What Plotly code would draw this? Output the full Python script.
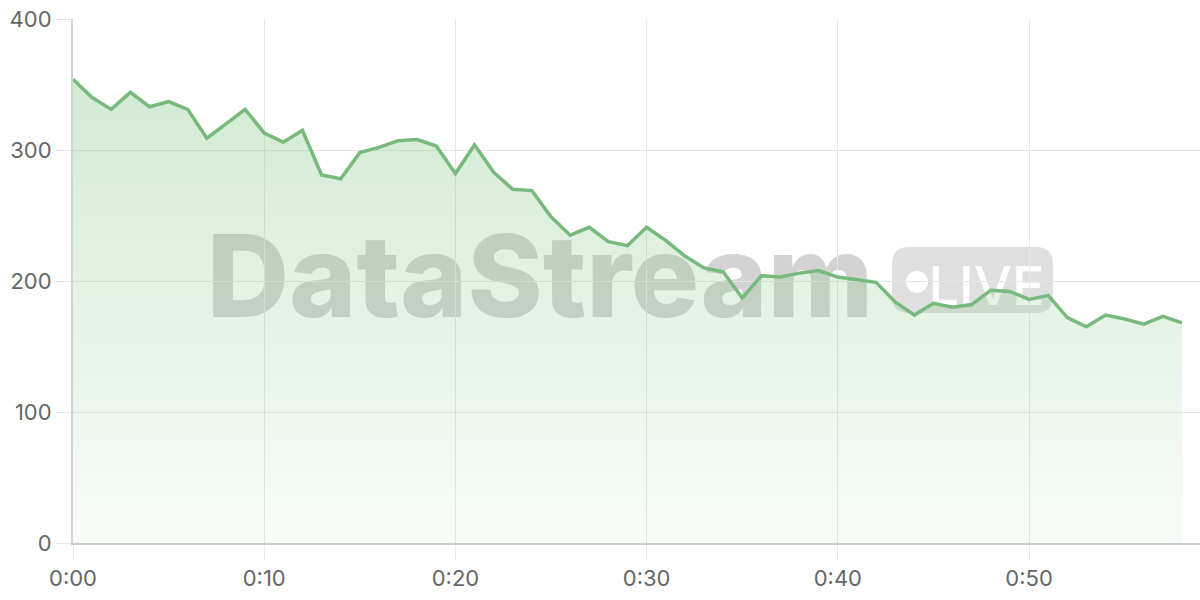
import plotly.graph_objects as go

# minutes since start and the measured value at each minute
minutes = list(range(59))
values = [354, 340, 331, 344, 333, 337, 331, 309, 320, 331,
          313, 306, 315, 281, 278, 298, 302, 307, 308, 303,
          282, 304, 283, 270, 269, 249, 235, 241, 230, 227,
          241, 231, 219, 210, 207, 187, 204, 203, 206, 208,
          203, 201, 199, 184, 174, 183, 180, 182, 193, 192,
          186, 189, 172, 165, 174, 171, 167, 173, 168]

x_ticks = [0, 10, 20, 30, 40, 50]
x_labels = ["0:00", "0:10", "0:20", "0:30", "0:40", "0:50"]
y_ticks = [0, 100, 200, 300, 400]

W, H = 1200, 600
L, R, T, B = 73, 0, 19, 57


def px(x):
    # pixel -> paper x
    return (x - L) / (W - L - R)


def py(y):
    return (H - B - y) / (H - T - B)


def rounded_path(x0, y0, x1, y1, r):
    # rounded rectangle in pixel space, converted to paper coords
    pts = [
        ("M", [(x0 + r, y0)]), ("L", [(x1 - r, y0)]), ("Q", [(x1, y0), (x1, y0 + r)]),
        ("L", [(x1, y1 - r)]), ("Q", [(x1, y1), (x1 - r, y1)]),
        ("L", [(x0 + r, y1)]), ("Q", [(x0, y1), (x0, y1 - r)]),
        ("L", [(x0, y0 + r)]), ("Q", [(x0, y0), (x0 + r, y0)]),
    ]
    s = ""
    for cmd, ps in pts:
        s += cmd + " ".join(f"{px(a):.5f},{py(b):.5f}" for a, b in ps) + " "
    return s + "Z"


fig = go.Figure()
fig.add_trace(go.Scatter(
    x=minutes, y=values, mode="lines",
    line=dict(color="#78ba7c", width=3.5),
    fill="tozeroy",
    fillgradient=dict(type="vertical",
                      colorscale=[[0, "rgba(129,199,132,0.06)"], [1, "rgba(129,199,132,0.36)"]]),
    hoverinfo="skip",
))

wm = "rgba(110,110,110,0.3)"
shapes = [
    # big watermark word
    dict(type="rect", xref="paper", yref="paper", layer="between",
         x0=px(190), x1=px(890), y0=py(320), y1=py(222),
         line=dict(width=0), fillcolor="rgba(0,0,0,0)",
         label=dict(text="DataStream", textposition="middle center",
                    font=dict(family="Inter", size=114, color=wm, weight=800))),
    # LIVE badge
    dict(type="path", xref="paper", yref="paper", layer="between",
         path=rounded_path(892, 247, 1053, 313, 17),
         line=dict(width=0), fillcolor="rgba(120,120,120,0.24)"),
    dict(type="circle", xref="paper", yref="paper", layer="between",
         x0=px(906), x1=px(928), y0=py(293), y1=py(271),
         line=dict(width=0), fillcolor="white"),
    dict(type="rect", xref="paper", yref="paper", layer="between",
         x0=px(934), x1=px(1039), y0=py(311), y1=py(255),
         line=dict(width=0), fillcolor="rgba(0,0,0,0)",
         label=dict(text="LIVE", textposition="middle center",
                    font=dict(family="Inter", size=54, color="white", weight=500))),
]

fig.update_layout(
    width=W, height=H,
    margin=dict(l=L, r=R, t=T, b=B),
    paper_bgcolor="white", plot_bgcolor="rgba(0,0,0,0)",
    showlegend=False,
    font=dict(family="Inter", size=22, color="#666666"),
    shapes=shapes,
)
fig.update_xaxes(
    range=[0, 58.94], tickvals=x_ticks, ticktext=x_labels, automargin=False,
    ticklabeloverflow="allow",
    showgrid=True, gridcolor="#e6e6e6", gridwidth=1,
    ticks="outside", ticklen=15, tickcolor="#e6e6e6", tickwidth=1,
    showline=True, linecolor="#cfcfcf", linewidth=2, zeroline=False,
)
fig.update_yaxes(
    range=[0, 400], tickvals=y_ticks, automargin=False,
    ticklabeloverflow="allow",
    showgrid=True, gridcolor="#e6e6e6", gridwidth=1,
    ticks="outside", ticklen=15, tickcolor="#e6e6e6", tickwidth=1,
    showline=True, linecolor="#d4d4d4", linewidth=2, zeroline=False,
)

# drop the default page margin so the figure fills the window
fig.write_html("out.html", config={"displayModeBar": False},
               post_script="document.body.style.margin = '0';")
